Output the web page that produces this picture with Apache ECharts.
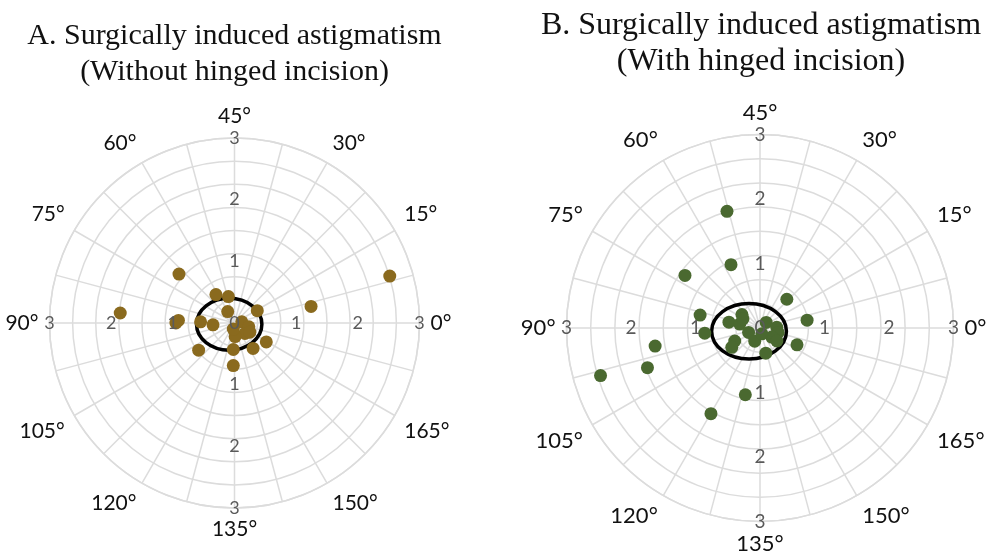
<!DOCTYPE html>
<html>
<head>
<meta charset="utf-8">
<script src="https://cdn.jsdelivr.net/npm/echarts@6/dist/echarts.min.js"></script>
<style>
html,body{margin:0;padding:0;background:#fff;}
#chart{width:986px;height:560px;}
</style>
</head>
<body>
<div id="chart"></div>
<script>
// ---- Data ----
const titleA = 'A. Surgically induced astigmatism\n(Without hinged incision)';
const titleB = 'B. Surgically induced astigmatism\n(With hinged incision)';
const radiusTicks = [0, 1, 2, 3];
// Panel A: magnitude (D) and axis (degrees, 0-180)
const magA = [2.63, 1.27, 1.20, 1.86, 0.95, 0.91, 0.55, 0.44, 0.215, 0.42, 0.55, 0.35, 0.12, 0.24, 0.24, 0.22, 0.10, 0.60, 0.51, 0.43, 0.73, 0.69, 0.29];
const axisA = [8.4, 6.1, 69.3, 87.5, 90.0, 88.7, 61.6, 51.5, 60.4, 14.2, 89.0, 92.4, 4.7, 172.7, 157.5, 136.3, 129.3, 164.6, 153.1, 133.7, 108.6, 134.2, 164.5];
// Panel B
const magB = [1.88, 1.08, 1.42, 0.61, 0.74, 0.63, 0.95, 0.86, 1.65, 1.85, 2.58, 1.06, 1.53, 0.40, 0.35, 0.49, 0.32, 0.19, 0.22, 0.44, 0.53, 0.13, 0.26, 0.29, 0.23, 0.33, 0.095, 0.30];
const axisB = [52.9, 57.3, 72.5, 23.5, 4.7, 167.8, 83.9, 92.7, 94.9, 99.7, 98.3, 128.8, 120.1, 141.5, 71.6, 84.7, 84.5, 100.6, 124.1, 103.6, 107.2, 21.0, 1.1, 173.0, 161.1, 161.2, 144.0, 75.8];
// Confidence ellipses: centre [x, y] and semi-axes [a, b] in dioptres
const ellipseA_center = [-0.086, -0.02];
const ellipseA_axes = [0.53, 0.42];
const ellipseB_center = [-0.17, -0.05];
const ellipseB_axes = [0.58, 0.43];

// ---- Chart ----
const chart = echarts.init(document.getElementById('chart'));
const gridColor = '#dcdcdc';
const labelFont = 'Lato';

const polars = [], angleAxes = [], radiusAxes = [], series = [];

function addPanel(center, radius, angleFontSize, radFontSize, mags, axes, color, eCenter, eAxes) {
  const base = polars.length;
  polars.push({ center: center, radius: radius });
  angleAxes.push({
    polarIndex: base, type: 'value', min: 0, max: 180, interval: 7.5,
    startAngle: 0, clockwise: false,
    axisLine: { show: true, lineStyle: { color: gridColor, width: 1.5 } },
    axisTick: { show: false },
    axisLabel: {
      margin: 11, color: '#111', fontFamily: labelFont, fontSize: angleFontSize,
      formatter: v => (Math.abs(v % 15) < 1e-6 ? Math.round(v) + '°' : '')
    },
    splitLine: { show: true, lineStyle: { color: gridColor, width: 1.5 } }
  });
  radiusAxes.push({
    polarIndex: base, type: 'value', min: 0, max: 3, interval: 0.375,
    axisLine: { show: false }, axisTick: { show: false }, axisLabel: { show: false },
    splitLine: { show: true, lineStyle: { color: gridColor, width: 1.5 } }
  });
  [0, 90, 180, 270].forEach((sa, k) => {
    const idx = polars.length;
    polars.push({ center: center, radius: radius });
    angleAxes.push({ polarIndex: idx, type: 'value', min: 0, max: 180, startAngle: sa, clockwise: false, show: false });
    radiusAxes.push({
      polarIndex: idx, type: 'value', min: radiusTicks[0], max: radiusTicks[radiusTicks.length - 1], interval: 1, z: 10,
      axisLine: { show: false }, axisTick: { show: false }, splitLine: { show: false },
      axisLabel: {
        show: true, margin: 0, align: 'center', verticalAlign: 'middle',
        color: '#5a5a5a', fontFamily: labelFont, fontSize: radFontSize,
        showMinLabel: k === 0, showMaxLabel: true,
        formatter: v => (k !== 0 && v === 0 ? '' : String(v))
      }
    });
  });
  series.push({
    type: 'scatter', coordinateSystem: 'polar', polarIndex: base,
    symbolSize: 13, z: 3,
    itemStyle: { color: color, opacity: 1 },
    data: mags.map((m, i) => [m, axes[i]])
  });
  series.push({
    type: 'custom', coordinateSystem: 'polar', polarIndex: base, z: 2, silent: true,
    data: [[0, 0]],
    renderItem: function (params, api) {
      const o = api.coord([0, 0]);
      const e = api.coord([3, 0]);
      const unit = Math.abs(e[0] - o[0]) / 3;
      return {
        type: 'ellipse',
        shape: { cx: o[0] + eCenter[0] * unit, cy: o[1] - eCenter[1] * unit, rx: eAxes[0] * unit, ry: eAxes[1] * unit },
        style: { fill: 'none', stroke: '#000', lineWidth: 3.5 }
      };
    }
  });
}

addPanel([234.5, 323], 185, 21, 18, magA, axisA, '#8a6a1e', ellipseA_center, ellipseA_axes);
addPanel([760, 328], 193.5, 22, 19, magB, axisB, '#4a6930', ellipseB_center, ellipseB_axes);

chart.setOption({
  animation: false,
  backgroundColor: '#fff',
  polar: polars,
  angleAxis: angleAxes,
  radiusAxis: radiusAxes,
  series: series,
  graphic: [
    { type: 'text', x: 234.5, y: 18, style: { text: titleA, align: 'center', verticalAlign: 'top', fontFamily: 'Liberation Serif', fontSize: 30, lineHeight: 36, fill: '#111' } },
    { type: 'text', x: 761, y: 8, style: { text: titleB, align: 'center', verticalAlign: 'top', fontFamily: 'Liberation Serif', fontSize: 32, lineHeight: 36, fill: '#111' } }
  ]
});
</script>
</body>
</html>
